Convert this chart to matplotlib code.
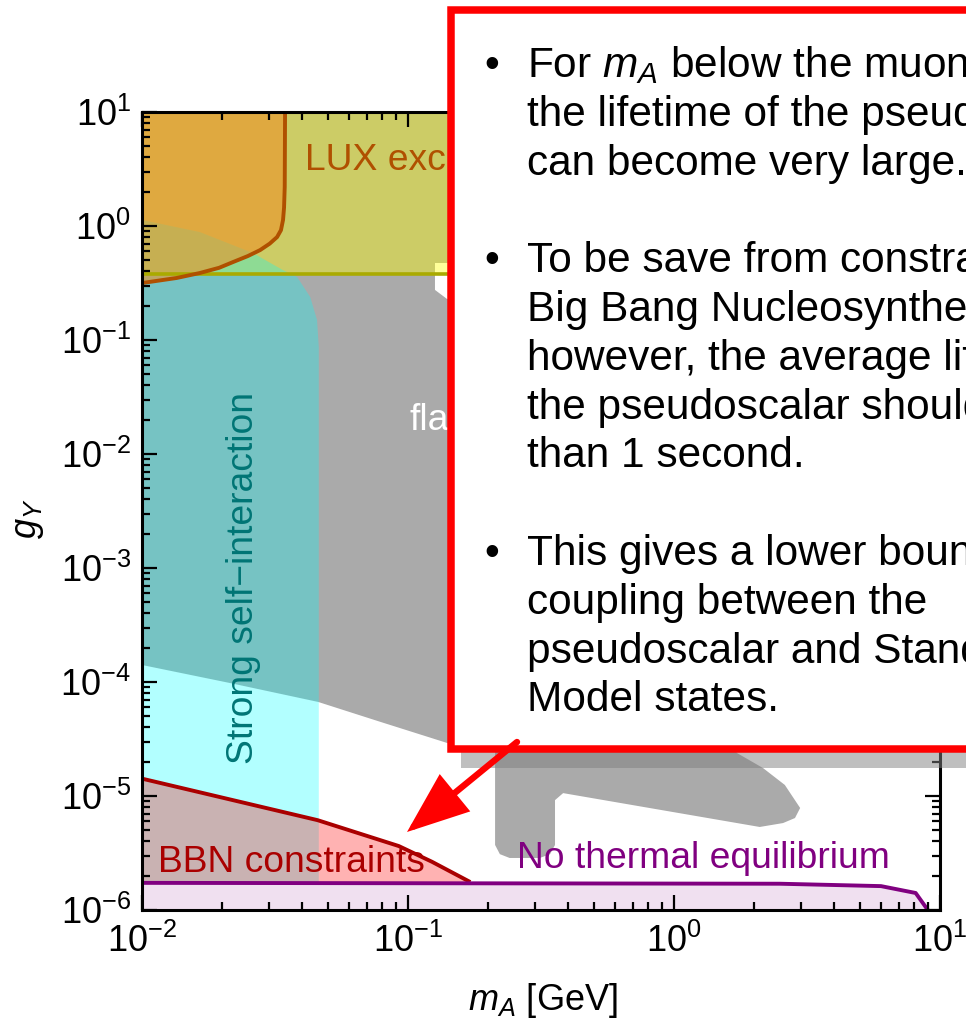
import numpy as np
import matplotlib
matplotlib.use("Agg")
import matplotlib.pyplot as plt
from matplotlib.patches import Polygon, Rectangle, FancyArrowPatch, ArrowStyle
from matplotlib.ticker import LogLocator, NullFormatter, FixedLocator, FixedFormatter

plt.rcParams['font.family'] = ['Liberation Sans', 'DejaVu Sans']
plt.rcParams['mathtext.fontset'] = 'custom'
plt.rcParams['mathtext.rm'] = 'Liberation Sans'
plt.rcParams['mathtext.it'] = 'Liberation Sans:italic'
plt.rcParams['mathtext.bf'] = 'Liberation Sans:bold'

# ---------------- data ----------------
x_ticks = [1e-2, 1e-1, 1e0, 1e1]
x_tick_labels = [r'$10^{-2}$', r'$10^{-1}$', r'$10^{0}$', r'$10^{1}$']
y_ticks = [1e-6, 1e-5, 1e-4, 1e-3, 1e-2, 1e-1, 1e0, 1e1]
y_tick_labels = [r'$10^{-6}$', r'$10^{-5}$', r'$10^{-4}$', r'$10^{-3}$',
                 r'$10^{-2}$', r'$10^{-1}$', r'$10^{0}$', r'$10^{1}$']

# LUX excluded band (above a constant coupling)
lux_m = [0.01, 10.0]
lux_gy = [0.383, 0.383]

# orange LUX sub-region (brown boundary curve)
orange_m = [0.01, 0.0135, 0.0165, 0.0195, 0.022, 0.025, 0.0278, 0.0302, 0.0322,
            0.0333, 0.0339, 0.0342, 0.0344, 0.0345]
orange_gy = [0.316, 0.35, 0.387, 0.43, 0.483, 0.545, 0.615, 0.70, 0.80,
             0.92, 1.13, 1.45, 2.2, 10.0]

# small yellow patch near the callout edge
patch_m = [0.1263, 0.16, 0.16, 0.1263]
patch_gy = [0.383, 0.383, 0.473, 0.473]

# strong self-interaction region
teal_m = [0.01, 0.0165, 0.0261, 0.0339, 0.0383, 0.0429, 0.0455, 0.0462, 0.0462, 0.01]
teal_gy = [1.13, 0.885, 0.58, 0.41, 0.357, 0.238, 0.150, 0.087, 1e-6, 1e-6]

# flavour constraints (grey)
grey_m = [0.01, 0.1263, 0.1263, 0.1402, 1.25, 1.25, 1.726, 2.16, 2.61, 2.98, 2.85,
          2.57, 2.10, 0.383, 0.357, 0.357, 0.342, 0.313, 0.241, 0.2215, 0.2125,
          0.2125, 0.1402, 0.0785, 0.0459, 0.0214, 0.01]
grey_gy = [0.383, 0.383, 0.275, 0.229, 0.229, 6.95e-5, 2.38e-5, 1.76e-5, 1.25e-5,
           7.85e-6, 6.41e-6, 5.79e-6, 5.35e-6, 1.06e-5, 9.2e-6, 3.72e-6, 3.09e-6,
           2.86e-6, 2.86e-6, 3.09e-6, 3.72e-6, 2.54e-5, 2.92e-5, 4.48e-5, 6.69e-5,
           9.8e-5, 1.41e-4]

# BBN constraint boundary
bbn_m = [0.01, 0.0457, 0.0923, 0.123, 0.169]
bbn_gy = [1.42e-5, 6.14e-6, 3.64e-6, 2.65e-6, 1.79e-6]

# no thermal equilibrium boundary
neq_m = [0.01, 2.5, 6.0, 8.1, 9.0]
neq_gy = [1.73e-6, 1.70e-6, 1.62e-6, 1.41e-6, 1.0e-6]

callout_lines = [
    "For $m_A$ below the muon mass,",
    "the lifetime of the pseudoscalar",
    "can become very large.",
    "",
    "To be save from constraints of",
    "Big Bang Nucleosynthesis (BBN),",
    "however, the average lifetime of",
    "the pseudoscalar should be less",
    "than 1 second.",
    "",
    "This gives a lower bound on the",
    "coupling between the",
    "pseudoscalar and Standard",
    "Model states.",
]
bullet_lines = [0, 4, 10]

# ---------------- figure ----------------
W, H = 966, 1023
fig = plt.figure(figsize=(W / 100, H / 100), dpi=100)
ax = fig.add_axes([142 / W, 1 - 910 / H, 798 / W, 798 / H])
ax.set_xscale('log')
ax.set_yscale('log')
ax.set_xlim(1e-2, 1e1)
ax.set_ylim(1e-6, 1e1)

ymin, ymax = 1e-6, 1e1

ax.fill_between(lux_m, lux_gy, ymax, color='#CCCC66', lw=0, zorder=1)
ax.add_patch(Polygon(np.column_stack([patch_m, patch_gy]), closed=True,
                     fc='#FFFF99', ec='none', zorder=1.1))
ax.add_patch(Polygon(np.column_stack([grey_m, grey_gy]), closed=True,
                     fc='#AAAAAA', ec='none', zorder=2))
ax.add_patch(Polygon(np.column_stack([teal_m, teal_gy]), closed=True,
                     fc=(0, 1, 1, 0.3), ec='none', zorder=3))
om = list(orange_m) + [0.01]
og = list(orange_gy) + [ymax]
ax.add_patch(Polygon(np.column_stack([om, og]), closed=True,
                     fc=(237 / 255, 147 / 255, 39 / 255, 0.6), ec='none', zorder=4))
bm = list(bbn_m) + [bbn_m[-1], bbn_m[0]]
bg = list(bbn_gy) + [ymin, ymin]
ax.add_patch(Polygon(np.column_stack([bm, bg]), closed=True,
                     fc=(1, 0, 0, 0.3), ec='none', zorder=5))
ax.fill_between(neq_m, ymin, neq_gy, color='#F0E0F0', lw=0, zorder=6)

ax.plot(lux_m, lux_gy, color='#AAAA00', lw=2.6, zorder=7)
ax.plot(orange_m, orange_gy, color='#B05000', lw=2.8, zorder=7, solid_joinstyle='round')
ax.plot(bbn_m, bbn_gy, color='#AA0000', lw=2.8, zorder=7, solid_joinstyle='round')
ax.plot(neq_m, neq_gy, color='#800080', lw=2.8, zorder=7, solid_joinstyle='round')

lab_fs = 26.8
ax.text(0.041, 3.1, 'LUX excluded', color='#B05000', fontsize=lab_fs, va='baseline', zorder=9)
ax.text(0.1017, 0.0163, 'fla', color='white', fontsize=lab_fs, va='baseline', zorder=9)
ax.text(0.024, 8.2e-4, 'Strong self\u2212interaction', color='#007575', fontsize=lab_fs,
        rotation=90, ha='center', va='center', zorder=9)
ax.text(0.01149, 2.16e-6, 'BBN constraints', color='#AA0000', fontsize=lab_fs, va='baseline', zorder=9)
ax.text(0.257, 2.33e-6, 'No thermal equilibrium', color='#800080', fontsize=lab_fs, va='baseline', zorder=9)

# axes styling
ax.xaxis.set_major_locator(FixedLocator(x_ticks))
ax.xaxis.set_major_formatter(FixedFormatter(x_tick_labels))
ax.yaxis.set_major_locator(FixedLocator(y_ticks))
ax.yaxis.set_major_formatter(FixedFormatter(y_tick_labels))
ax.xaxis.set_minor_locator(LogLocator(base=10, subs=np.arange(2, 10), numticks=100))
ax.yaxis.set_minor_locator(LogLocator(base=10, subs=np.arange(2, 10), numticks=100))
ax.xaxis.set_minor_formatter(NullFormatter())
ax.yaxis.set_minor_formatter(NullFormatter())
ax.tick_params(which='both', direction='in', top=True, right=True, width=1.6)
ax.tick_params(which='major', length=11, labelsize=26)
ax.tick_params(axis='x', which='major', pad=10)
ax.tick_params(axis='y', which='major', pad=8)
ax.tick_params(which='minor', length=5.8)
for s in ax.spines.values():
    s.set_linewidth(2.2)
    s.set_zorder(20)
ax.xaxis.set_zorder(20)
ax.yaxis.set_zorder(20)

ax.set_xlabel(r'$m_A$ [GeV]', fontsize=26)
ax.xaxis.set_label_coords(0.5025, -0.089)
ax.set_ylabel(r'$g_Y$', fontsize=26)
ax.yaxis.set_label_coords(-0.12, 0.49)

# ---------------- callout overlay ----------------
def fx(px):
    return px / W

def fy(py):
    return 1 - py / H

shadow = Rectangle((fx(461), fy(768)), fx(1300) - fx(461), fy(20) - fy(768),
                   transform=fig.transFigure, fc=(0.5, 0.5, 0.5, 0.5), ec='none', zorder=10)
fig.add_artist(shadow)
box = Rectangle((fx(450.5), fy(749)), fx(1300) - fx(450.5), fy(9.5) - fy(749),
                transform=fig.transFigure, fc='white', ec='#FF0000', lw=5.4, zorder=11)
fig.add_artist(box)
arrow = FancyArrowPatch((fx(517), fy(742)), (fx(407), fy(832)), transform=fig.transFigure,
                        arrowstyle=ArrowStyle('-|>', head_length=36, head_width=14),
                        mutation_scale=1, color='#FF0000', lw=4.6, shrinkA=0, shrinkB=0,
                        joinstyle='miter', zorder=12)
fig.add_artist(arrow)

txt_fs = 30.5
base0, step = 77, 48.8
for i, line in enumerate(callout_lines):
    yb = base0 + i * step
    if line:
        fig.text(fx(527), fy(yb), line, ha='left', va='baseline', fontsize=txt_fs, zorder=13)
    if i in bullet_lines:
        fig.text(fx(492), fy(yb), '\u2022', ha='center', va='baseline', fontsize=txt_fs, zorder=13)

fig.savefig('out.png', dpi=100)
